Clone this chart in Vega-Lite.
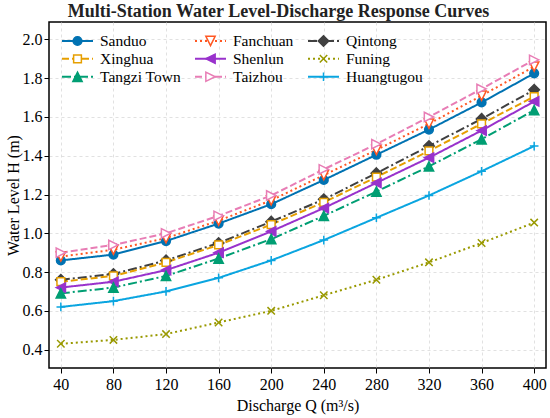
{
  "$schema": "https://vega.github.io/schema/vega-lite/v6.json",
  "width": 497,
  "height": 346,
  "autosize": {"type": "none"},
  "padding": {"left": 49, "top": 22, "right": 4, "bottom": 50},
  "background": "white",
  "title": {
    "text": "Multi-Station Water Level-Discharge Response Curves",
    "font": "Liberation Serif",
    "fontSize": 18,
    "fontWeight": "bold",
    "color": "#222222",
    "anchor": "middle",
    "dx": -19,
    "offset": 1
  },
  "config": {
    "view": {"stroke": "black", "strokeWidth": 1.5},
    "axis": {
      "domain": false,
      "tickColor": "black",
      "tickSize": 5,
      "tickWidth": 1,
      "labelFont": "Liberation Serif",
      "labelFontSize": 16,
      "labelColor": "black",
      "titleFont": "Liberation Serif",
      "titleFontSize": 16,
      "titleFontWeight": "normal",
      "titleColor": "black",
      "gridColor": "#d9d9d9",
      "gridDash": [3, 3],
      "gridWidth": 0.8
    },
    "legend": {
      "labelFont": "Liberation Serif",
      "labelFontSize": 15.5,
      "labelColor": "black"
    }
  },
  "data": {
    "values": [
      {"Q": 40, "H": 0.86, "station": "Sanduo"},
      {"Q": 80, "H": 0.89, "station": "Sanduo"},
      {"Q": 120, "H": 0.96, "station": "Sanduo"},
      {"Q": 160, "H": 1.05, "station": "Sanduo"},
      {"Q": 200, "H": 1.15, "station": "Sanduo"},
      {"Q": 240, "H": 1.275, "station": "Sanduo"},
      {"Q": 280, "H": 1.405, "station": "Sanduo"},
      {"Q": 320, "H": 1.535, "station": "Sanduo"},
      {"Q": 360, "H": 1.675, "station": "Sanduo"},
      {"Q": 400, "H": 1.825, "station": "Sanduo"},
      {"Q": 40, "H": 0.88, "station": "Fanchuan"},
      {"Q": 80, "H": 0.915, "station": "Fanchuan"},
      {"Q": 120, "H": 0.975, "station": "Fanchuan"},
      {"Q": 160, "H": 1.065, "station": "Fanchuan"},
      {"Q": 200, "H": 1.17, "station": "Fanchuan"},
      {"Q": 240, "H": 1.3, "station": "Fanchuan"},
      {"Q": 280, "H": 1.43, "station": "Fanchuan"},
      {"Q": 320, "H": 1.565, "station": "Fanchuan"},
      {"Q": 360, "H": 1.71, "station": "Fanchuan"},
      {"Q": 400, "H": 1.86, "station": "Fanchuan"},
      {"Q": 40, "H": 0.9, "station": "Taizhou"},
      {"Q": 80, "H": 0.94, "station": "Taizhou"},
      {"Q": 120, "H": 1.0, "station": "Taizhou"},
      {"Q": 160, "H": 1.09, "station": "Taizhou"},
      {"Q": 200, "H": 1.195, "station": "Taizhou"},
      {"Q": 240, "H": 1.33, "station": "Taizhou"},
      {"Q": 280, "H": 1.46, "station": "Taizhou"},
      {"Q": 320, "H": 1.6, "station": "Taizhou"},
      {"Q": 360, "H": 1.745, "station": "Taizhou"},
      {"Q": 400, "H": 1.895, "station": "Taizhou"},
      {"Q": 40, "H": 0.76, "station": "Qintong"},
      {"Q": 80, "H": 0.79, "station": "Qintong"},
      {"Q": 120, "H": 0.86, "station": "Qintong"},
      {"Q": 160, "H": 0.95, "station": "Qintong"},
      {"Q": 200, "H": 1.06, "station": "Qintong"},
      {"Q": 240, "H": 1.175, "station": "Qintong"},
      {"Q": 280, "H": 1.31, "station": "Qintong"},
      {"Q": 320, "H": 1.45, "station": "Qintong"},
      {"Q": 360, "H": 1.59, "station": "Qintong"},
      {"Q": 400, "H": 1.74, "station": "Qintong"},
      {"Q": 40, "H": 0.75, "station": "Xinghua"},
      {"Q": 80, "H": 0.78, "station": "Xinghua"},
      {"Q": 120, "H": 0.85, "station": "Xinghua"},
      {"Q": 160, "H": 0.94, "station": "Xinghua"},
      {"Q": 200, "H": 1.045, "station": "Xinghua"},
      {"Q": 240, "H": 1.16, "station": "Xinghua"},
      {"Q": 280, "H": 1.29, "station": "Xinghua"},
      {"Q": 320, "H": 1.425, "station": "Xinghua"},
      {"Q": 360, "H": 1.565, "station": "Xinghua"},
      {"Q": 400, "H": 1.705, "station": "Xinghua"},
      {"Q": 40, "H": 0.72, "station": "Shenlun"},
      {"Q": 80, "H": 0.75, "station": "Shenlun"},
      {"Q": 120, "H": 0.81, "station": "Shenlun"},
      {"Q": 160, "H": 0.9, "station": "Shenlun"},
      {"Q": 200, "H": 1.01, "station": "Shenlun"},
      {"Q": 240, "H": 1.13, "station": "Shenlun"},
      {"Q": 280, "H": 1.26, "station": "Shenlun"},
      {"Q": 320, "H": 1.39, "station": "Shenlun"},
      {"Q": 360, "H": 1.53, "station": "Shenlun"},
      {"Q": 400, "H": 1.68, "station": "Shenlun"},
      {"Q": 40, "H": 0.69, "station": "Tangzi Town"},
      {"Q": 80, "H": 0.72, "station": "Tangzi Town"},
      {"Q": 120, "H": 0.78, "station": "Tangzi Town"},
      {"Q": 160, "H": 0.87, "station": "Tangzi Town"},
      {"Q": 200, "H": 0.97, "station": "Tangzi Town"},
      {"Q": 240, "H": 1.09, "station": "Tangzi Town"},
      {"Q": 280, "H": 1.215, "station": "Tangzi Town"},
      {"Q": 320, "H": 1.345, "station": "Tangzi Town"},
      {"Q": 360, "H": 1.485, "station": "Tangzi Town"},
      {"Q": 400, "H": 1.635, "station": "Tangzi Town"},
      {"Q": 40, "H": 0.62, "station": "Huangtugou"},
      {"Q": 80, "H": 0.65, "station": "Huangtugou"},
      {"Q": 120, "H": 0.7, "station": "Huangtugou"},
      {"Q": 160, "H": 0.77, "station": "Huangtugou"},
      {"Q": 200, "H": 0.86, "station": "Huangtugou"},
      {"Q": 240, "H": 0.965, "station": "Huangtugou"},
      {"Q": 280, "H": 1.08, "station": "Huangtugou"},
      {"Q": 320, "H": 1.195, "station": "Huangtugou"},
      {"Q": 360, "H": 1.32, "station": "Huangtugou"},
      {"Q": 400, "H": 1.45, "station": "Huangtugou"},
      {"Q": 40, "H": 0.43, "station": "Funing"},
      {"Q": 80, "H": 0.45, "station": "Funing"},
      {"Q": 120, "H": 0.48, "station": "Funing"},
      {"Q": 160, "H": 0.54, "station": "Funing"},
      {"Q": 200, "H": 0.6, "station": "Funing"},
      {"Q": 240, "H": 0.68, "station": "Funing"},
      {"Q": 280, "H": 0.76, "station": "Funing"},
      {"Q": 320, "H": 0.85, "station": "Funing"},
      {"Q": 360, "H": 0.95, "station": "Funing"},
      {"Q": 400, "H": 1.055, "station": "Funing"}
    ]
  },
  "encoding": {
    "x": {
      "field": "Q",
      "type": "quantitative",
      "title": "Discharge Q (m³/s)",
      "scale": {"domain": [31, 409], "nice": false, "zero": false},
      "axis": {"values": [40, 80, 120, 160, 200, 240, 280, 320, 360, 400], "labelPadding": 3, "titlePadding": 5}
    },
    "y": {
      "field": "H",
      "type": "quantitative",
      "title": "Water Level H (m)",
      "scale": {"domain": [0.305, 2.09], "nice": false, "zero": false},
      "axis": {"values": [0.4, 0.6, 0.8, 1.0, 1.2, 1.4, 1.6, 1.8, 2.0], "format": ".1f", "labelPadding": 2, "titlePadding": 1}
    }
  },
  "layer": [
    {
      "mark": {"type": "line", "strokeWidth": 2},
      "encoding": {
        "color": {
          "field": "station",
          "type": "nominal",
          "scale": {
            "domain": ["Sanduo", "Xinghua", "Tangzi Town", "Fanchuan", "Shenlun", "Taizhou", "Qintong", "Funing", "Huangtugou"],
            "range": ["#0072B2", "#E69F00", "#009E73", "#FF5722", "#9932CC", "#E87DB5", "#404040", "#999900", "#0AA5E0"]
          },
          "legend": {
            "title": null,
            "orient": "none",
            "legendX": 12,
            "legendY": 10,
            "columns": 3,
            "padding": 0,
            "rowPadding": 0,
            "columnPadding": 13,
            "clipHeight": 17.5,
            "symbolType": "stroke",
            "symbolSize": 961,
            "symbolStrokeWidth": 2,
            "labelOffset": 6
          }
        },
        "strokeDash": {
          "field": "station",
          "type": "nominal",
          "scale": {
            "domain": ["Sanduo", "Xinghua", "Tangzi Town", "Fanchuan", "Shenlun", "Taizhou", "Qintong", "Funing", "Huangtugou"],
            "range": [[1, 0], [7, 3], [9, 3, 2, 3], [2, 3], [1, 0], [7, 3], [9, 3, 2, 3], [2, 3], [1, 0]]
          }
        }
      }
    },
    {
      "mark": {"type": "point", "filled": false, "size": 961, "strokeWidth": 1.5, "opacity": 1},
      "encoding": {
        "color": {"field": "station", "type": "nominal"},
        "fill": {
          "field": "station",
          "type": "nominal",
          "scale": {
            "domain": ["Sanduo", "Xinghua", "Tangzi Town", "Fanchuan", "Shenlun", "Taizhou", "Qintong", "Funing", "Huangtugou"],
            "range": ["#0072B2", "white", "#009E73", "white", "#9932CC", "white", "#404040", "transparent", "transparent"]
          },
          "legend": null
        },
        "shape": {
          "field": "station",
          "type": "nominal",
          "sort": ["Sanduo", "Xinghua", "Tangzi Town", "Fanchuan", "Shenlun", "Taizhou", "Qintong", "Funing", "Huangtugou"],
          "scale": {
            "range": [
              "M0.28,0A0.28,0.28 0 1,1 -0.28,0A0.28,0.28 0 1,1 0.28,0Z",
              "M-0.25,-0.25H0.25V0.25H-0.25Z",
              "M0,-0.3L0.3,0.3L-0.3,0.3Z",
              "M0,0.3L0.3,-0.3L-0.3,-0.3Z",
              "M-0.3,0L0.3,-0.3L0.3,0.3Z",
              "M0.3,0L-0.3,-0.3L-0.3,0.3Z",
              "M0,-0.34L0.34,0L0,0.34L-0.34,0Z",
              "M-0.24,-0.24L0.24,0.24M-0.24,0.24L0.24,-0.24",
              "M-0.28,0L0.28,0M0,-0.28L0,0.28"
            ]
          },
          "legend": {
            "title": null,
            "orient": "none",
            "legendX": 12,
            "legendY": 10,
            "columns": 3,
            "padding": 0,
            "rowPadding": 0,
            "columnPadding": 13,
            "clipHeight": 17.5,
            "symbolSize": 961,
            "symbolStrokeWidth": 1.5,
            "symbolOpacity": 1,
            "symbolStrokeColor": {"expr": "scale('color', datum.value)"},
            "symbolFillColor": {"expr": "scale('fill', datum.value)"},
            "labelOffset": 6,
            "labelOpacity": 0
          }
        }
      }
    }
  ]
}
